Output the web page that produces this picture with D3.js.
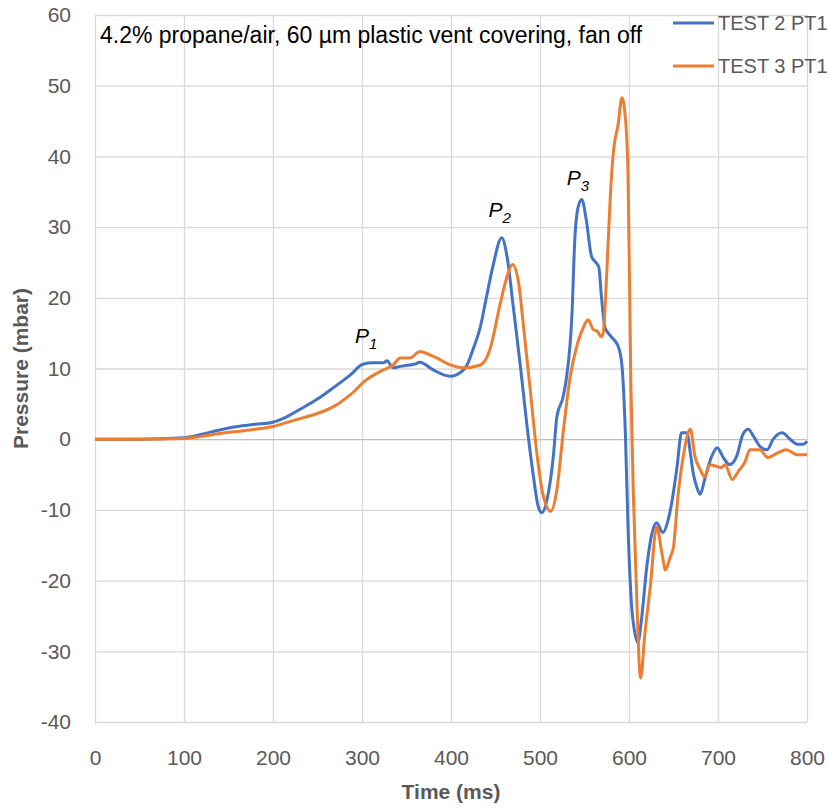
<!DOCTYPE html>
<html lang="en">

<head>
    <meta charset="UTF-8">
    <script src="https://d3js.org/d3.v7.min.js"></script>
    <title>Vent pressure traces</title>

    <style>
        body {
            margin: 0;
            background: #fff;
        }

        svg text {
            font-family: "Liberation Sans", Arial, sans-serif;
        }

        /* gridlines */
        .grid line {
            stroke: #d9d9d9;
            stroke-width: 1.3px;
        }

        .grid path {
            display: none;
        }

        /* tick labels only, no axis lines */
        .ticks path,
        .ticks line {
            display: none;
        }

        .ticks text {
            fill: #595959;
            font-size: 21px;
        }

        .axis-title {
            fill: #595959;
            font-size: 21px;
            font-weight: bold;
        }

        .legend text {
            fill: #595959;
            font-size: 20px;
        }
    </style>
</head>

<body>
    <div id="chart"></div>

    <script>
        // Axis ticks
        var timeTicks = [0, 100, 200, 300, 400, 500, 600, 700, 800];
        var pressureTicks = [-40, -30, -20, -10, 0, 10, 20, 30, 40, 50, 60];

        // TEST 2 PT1
        var test2Time = [0, 50, 100, 120, 140, 160, 180, 200, 211, 230, 249, 268, 287, 301, 312, 324, 328, 335, 343,
            361, 365, 380, 399, 406, 418, 425, 433, 440, 447, 457, 463, 470, 478, 485, 492, 498, 502, 508, 515,
            519, 526, 530, 536, 539, 543, 547, 552, 558, 562, 566, 569, 573, 580, 588, 592, 596, 599, 603, 606,
            610, 614, 620, 626, 631, 638, 644, 648, 654, 659, 665, 669, 672, 676, 680, 685, 693, 699, 706, 713,
            721, 728, 734, 740, 747, 755, 762, 772, 781, 789, 796, 800];
        var test2Pressure = [0, 0, 0.2, 0.7, 1.3, 1.8, 2.1, 2.4, 2.9, 4.2, 5.6, 7.3, 9.1, 10.6, 10.8, 10.8, 11.1, 10.1, 10.3,
            10.7, 10.9, 9.8, 8.9, 9.1, 10.5, 12.8, 15.9, 20.2, 24.4, 28.5, 25.8, 18.7, 10.3, 2.3, -4.7, -9.5, -10.4, -8.5, -2.4,
            3.2, 6.0, 8.9, 17.9, 28.0, 32.9, 33.9, 31.0, 25.8, 25.1, 24.4, 20.2, 15.8, 14.5, 13.1, 10.5, 0.5, -12.8, -23.7, -27,
            -28.8, -25.5, -18, -13.2, -11.8, -13.2, -11.4, -9, -3.9, 0.9, 0.9, -2.0, -4.7, -6.7, -7.8, -5.7, -2.4, -1.2, -2.6, -3.6,
            -2.4, 0.7, 1.4, 0.4, -1.0, -1.5, 0, 0.9, 0, -0.7, -0.7, -0.3];

        // TEST 3 PT1
        var test3Time = [0, 50, 100, 120, 140, 160, 180, 200, 211, 230, 249, 268, 287, 305, 324, 335, 343, 354, 365,
            375, 384, 399, 414, 433, 444, 455, 463, 469, 476, 481, 489, 496, 503, 512, 519, 526, 534, 541, 549,
            554, 560, 564, 569, 571, 575, 579, 582, 588, 592, 597, 599, 602, 605, 609, 613, 618, 624, 631, 637,
            641, 646, 650, 655, 661, 669, 674, 680, 685, 691, 697, 704, 708, 716, 723, 730, 736, 747, 756, 766,
            777, 789, 800];
        var test3Pressure = [0, 0, 0.1, 0.4, 0.8, 1.1, 1.4, 1.8, 2.2, 2.9, 3.6, 4.6, 6.3, 8.4, 9.8, 10.5, 11.5, 11.5, 12.4,
            12.0, 11.5, 10.5, 10.1, 10.5, 12.8, 19.0, 23.0, 24.7, 22.1, 16.5, 7.0, -1.5, -7.6, -10.2, -7.1, 0.9, 8.9, 13.0, 15.9,
            16.9, 15.5, 15.3, 14.5, 15.0, 23.5, 34.3, 40.0, 44.7, 48.3, 43.7, 36.7, 8.4, -8.1, -23.7, -33.8, -27.3, -20.8, -12.4, -16.1,
            -18.5, -16.8, -15.2, -8.1, -2.4, 1.4, -2.4, -4.3, -5.3, -3.6, -3.8, -4.0, -3.6, -5.7, -4.5, -3.3, -1.5, -1.5, -2.6, -2.0,
            -1.5, -2.2, -2.2];

        var seriesNames = ["TEST 2 PT1", "TEST 3 PT1"];
        var seriesColors = ["#4472C4", "#ED7D31"];

        // Peak labels P1..P3, anchored in data units
        var peakIndex = ["1", "2", "3"];
        var peakTime = [292, 442, 530];
        var peakPressure = [13.6, 31.4, 36.0];

        var note = "4.2% propane/air, 60 \u00b5m plastic vent covering, fan off";

        // Layout
        var svgWidth = 829,
            svgHeight = 810,
            margin = { top: 15, right: 22, bottom: 88, left: 95 },
            width = svgWidth - margin.left - margin.right,
            height = svgHeight - margin.top - margin.bottom;

        var svg = d3.select("#chart")
            .append("svg")
            .attr("width", svgWidth)
            .attr("height", svgHeight);

        var g = svg.append("g")
            .attr("transform", "translate(" + margin.left + "," + margin.top + ")");

        var x = d3.scaleLinear().domain([0, 800]).range([0, width]);
        var y = d3.scaleLinear().domain([-40, 60]).range([height, 0]);

        // plain hyphen for negatives, like the original
        var plain = function (d) { return String(d); };

        // Vertical gridlines
        g.append("g")
            .attr("class", "grid")
            .attr("transform", "translate(0," + height + ")")
            .call(d3.axisBottom(x).tickValues(timeTicks).tickSize(-height).tickFormat(""));

        // Horizontal gridlines (zero line a bit darker)
        g.append("g")
            .attr("class", "grid")
            .call(d3.axisLeft(y).tickValues(pressureTicks).tickSize(-width).tickFormat(""))
            .selectAll(".tick line")
            .style("stroke", function (d) { return d === 0 ? "#bfbfbf" : null; });

        // Tick labels
        g.append("g")
            .attr("class", "ticks")
            .attr("transform", "translate(0," + height + ")")
            .call(d3.axisBottom(x).tickValues(timeTicks).tickSize(0).tickPadding(28).tickFormat(plain));

        g.append("g")
            .attr("class", "ticks")
            .call(d3.axisLeft(y).tickValues(pressureTicks).tickSize(0).tickPadding(24).tickFormat(plain));

        // Axis titles
        svg.append("text")
            .attr("class", "axis-title")
            .attr("x", margin.left + width / 2)
            .attr("y", 799)
            .attr("text-anchor", "middle")
            .text("Time (ms)");

        svg.append("text")
            .attr("class", "axis-title")
            .attr("transform", "translate(28," + (margin.top + height / 2) + ") rotate(-90)")
            .attr("text-anchor", "middle")
            .text("Pressure (mbar)");

        // Series lines
        var series = [
            d3.zip(test2Time, test2Pressure),
            d3.zip(test3Time, test3Pressure)
        ];

        var line = d3.line()
            .x(function (d) { return x(d[0]); })
            .y(function (d) { return y(d[1]); })
            .curve(d3.curveMonotoneX);

        g.selectAll(".series")
            .data(series)
            .enter()
            .append("path")
            .attr("class", "series")
            .attr("d", line)
            .attr("fill", "none")
            .attr("stroke", function (d, i) { return seriesColors[i]; })
            .attr("stroke-width", 3)
            .attr("stroke-linejoin", "round");

        // Note in the top-left corner
        svg.append("text")
            .attr("x", 100)
            .attr("y", 43)
            .style("font-size", "23px")
            .style("fill", "#000")
            .text(note);

        // Peak labels
        var peaks = g.selectAll(".peak")
            .data(peakIndex)
            .enter()
            .append("text")
            .attr("class", "peak")
            .attr("x", function (d, i) { return x(peakTime[i]); })
            .attr("y", function (d, i) { return y(peakPressure[i]); })
            .style("font-size", "21px")
            .style("font-style", "italic")
            .style("fill", "#000");

        peaks.append("tspan").text("P");
        peaks.append("tspan")
            .attr("dy", 6)
            .style("font-size", "15px")
            .text(function (d) { return d; });

        // Legend
        var legend = svg.append("g")
            .attr("class", "legend")
            .selectAll("g")
            .data(seriesNames)
            .enter()
            .append("g")
            .attr("transform", function (d, i) { return "translate(673," + (23 + i * 43) + ")"; });

        legend.append("line")
            .attr("x1", 0)
            .attr("x2", 41)
            .attr("stroke", function (d, i) { return seriesColors[i]; })
            .attr("stroke-width", 3);

        legend.append("text")
            .attr("x", 45)
            .attr("y", 7)
            .text(function (d) { return d; });
    </script>
</body>

</html>
